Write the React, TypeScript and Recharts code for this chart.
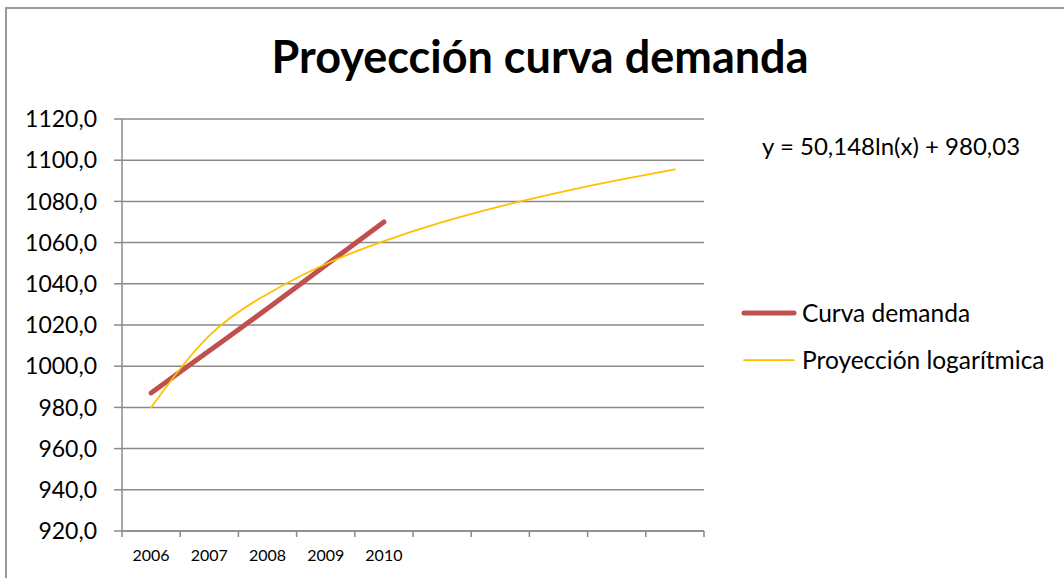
import { CartesianGrid, Legend, Line, LineChart, XAxis, YAxis } from 'recharts';

const years = ['2006', '2007', '2008', '2009', '2010', '', '', '', '', ''];
const demanda = [987, 1007.5, 1028, 1049, 1070];
const proyeccion = [980.0, 1014.8, 1035.1, 1049.6, 1060.7, 1069.9, 1077.6, 1084.3, 1090.2, 1095.5];
const yTicks = [920, 940, 960, 980, 1000, 1020, 1040, 1060, 1080, 1100, 1120];

const series = [
  { key: 'demanda', name: 'Curva demanda', color: '#C0504D', width: 5, curve: 'monotone' },
  { key: 'proyeccion', name: 'Proyección logarítmica', color: '#FFC000', width: 1.75, curve: 'natural' },
];

const data = years.map((year, i) => ({
  year,
  demanda: demanda[i] ?? null,
  proyeccion: proyeccion[i],
}));

const FONT = 'Lato, "Open Sans", sans-serif';
const GRID = '#8a8a8a';
const PLOT_WIDTH = 582;
const HALF_BAND = PLOT_WIDTH / years.length / 2;
const X_TICK_SIZE = 6;
const X_TICK_MARGIN = 13;

function YearTick(props: any) {
  const { x, y, payload, index, visibleTicksCount } = props;
  const count = visibleTicksCount || years.length;
  const top = y - X_TICK_MARGIN - X_TICK_SIZE;
  return (
    <g>
      <line x1={x - HALF_BAND} x2={x - HALF_BAND} y1={top} y2={top + X_TICK_SIZE} stroke={GRID} strokeWidth={1.5} />
      {index === count - 1 && (
        <line x1={x + HALF_BAND} x2={x + HALF_BAND} y1={top} y2={top + X_TICK_SIZE} stroke={GRID} strokeWidth={1.5} />
      )}
      <text x={x} y={y} dy="0.71em" textAnchor="middle" fill="#000" fontSize={16} fontFamily={FONT}>
        {payload.value}
      </text>
    </g>
  );
}

function renderLegend() {
  return (
    <div style={{ fontFamily: FONT, fontSize: 24.5, color: '#000' }}>
      {series.map((s) => (
        <div key={s.key} style={{ display: 'flex', alignItems: 'center', height: 47 }}>
          <svg width={56} height={10} style={{ marginRight: 5 }}>
            <line x1={3} x2={53} y1={5} y2={5} stroke={s.color} strokeWidth={s.width} strokeLinecap="round" />
          </svg>
          <span>{s.name}</span>
        </div>
      ))}
    </div>
  );
}

export default function App() {
  return (
    <div style={{ position: 'absolute', left: 0, top: 0, width: 1064, height: 578, overflow: 'hidden', background: '#fff' }}>
      <div style={{ position: 'absolute', left: 5, top: 7, width: 1100, height: 620, border: '2px solid #999' }} />
      <div
        style={{
          position: 'absolute', left: 0, top: 34, width: 1080, textAlign: 'center',
          fontFamily: FONT, fontWeight: 700, fontSize: 45, lineHeight: 1, color: '#000',
        }}
      >
        Proyección curva demanda
      </div>
      <div style={{ position: 'absolute', left: 762, top: 132, fontFamily: FONT, fontSize: 24, lineHeight: 1.2, color: '#000' }}>
        y = 50,148ln(x) + 980,03
      </div>
      <div style={{ position: 'absolute', left: 0, top: 0 }}>
        <LineChart width={1064} height={578} data={data} margin={{ top: 119, right: 360, bottom: 7, left: 0 }}>
          <CartesianGrid vertical={false} stroke={GRID} strokeWidth={1.5} />
          <XAxis
            dataKey="year"
            padding={{ left: HALF_BAND, right: HALF_BAND }}
            height={40}
            stroke={GRID}
            strokeWidth={1.5}
            tickLine={false}
            tickSize={X_TICK_SIZE}
            tickMargin={X_TICK_MARGIN}
            interval={0}
            tick={<YearTick />}
          />
          <YAxis
            width={122}
            domain={[920, 1120]}
            ticks={yTicks}
            interval={0}
            stroke={GRID}
            strokeWidth={1.5}
            tickSize={8}
            tickMargin={17}
            tick={{ fill: '#000', fontSize: 23, fontFamily: FONT }}
            tickFormatter={(v: number) => v.toFixed(1).replace('.', ',')}
          />
          {series.map((s) => (
            <Line
              key={s.key}
              dataKey={s.key}
              name={s.name}
              type={s.curve as any}
              stroke={s.color}
              strokeWidth={s.width}
              strokeLinecap="round"
              dot={false}
              activeDot={false}
              connectNulls={false}
              isAnimationActive={false}
            />
          ))}
          <Legend
            layout="vertical"
            align="center"
            verticalAlign="middle"
            wrapperStyle={{ left: 741, top: 289, width: 320 }}
            content={renderLegend}
          />
        </LineChart>
      </div>
    </div>
  );
}
